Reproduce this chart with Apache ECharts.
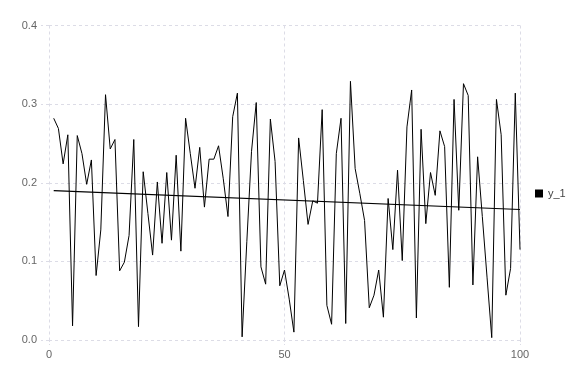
<!DOCTYPE html>
<html><head><meta charset="utf-8">
<script src="https://cdn.jsdelivr.net/npm/echarts@6/dist/echarts.min.js"></script>
<style>html,body{margin:0;padding:0;background:#fff}#c{width:576px;height:384px}</style>
</head><body><div id="c"></div>
<script>
const xValues = [];
for (let i = 1; i <= 100; i++) xValues.push(i);
const y1 = [
 0.282,0.269,0.224,0.261,0.018,0.260,0.237,0.198,0.229,0.082,
 0.140,0.312,0.243,0.255,0.088,0.099,0.133,0.255,0.017,0.214,
 0.161,0.108,0.201,0.123,0.213,0.127,0.235,0.113,0.282,0.237,
 0.193,0.245,0.169,0.230,0.230,0.247,0.205,0.157,0.284,0.314,
 0.004,0.125,0.240,0.302,0.093,0.071,0.281,0.227,0.069,0.089,
 0.052,0.010,0.257,0.203,0.147,0.177,0.174,0.293,0.044,0.020,
 0.237,0.282,0.021,0.329,0.218,0.186,0.152,0.041,0.057,0.089,
 0.029,0.180,0.115,0.216,0.101,0.271,0.318,0.028,0.268,0.148,
 0.213,0.184,0.266,0.246,0.067,0.306,0.165,0.326,0.311,0.070,
 0.233,0.157,0.080,0.003,0.306,0.261,0.057,0.091,0.314,0.115
];
const trendX = [1, 100];
const trendY = [0.190, 0.166];
const xTicks = [0, 50, 100];
const yTicks = [0, 0.1, 0.2, 0.3, 0.4];

const chart = echarts.init(document.getElementById('c'));
const font = 'Liberation Sans, Arial, sans-serif';
const gridColor = '#dcdce6';
chart.setOption({
  animation: false,
  textStyle: {fontFamily: font},
  grid: {left: 49, right: 56, top: 25.5, bottom: 44},
  legend: {
    data: [{name: 'y_1', icon: 'rect'}],
    orient: 'vertical', left: 530, top: 183,
    itemWidth: 8, itemHeight: 8, itemGap: 4,
    textStyle: {fontSize: 11, color: '#444', fontFamily: font}
  },
  xAxis: {
    type: 'value', min: xTicks[0], max: xTicks[xTicks.length-1], interval: 50,
    axisLine: {show: false},
    axisTick: {show: true, length: 5, lineStyle: {color: gridColor, type: [2, 2]}},
    axisLabel: {color: '#666', fontSize: 11, margin: 9},
    splitLine: {show: true, lineStyle: {color: gridColor, type: [3, 3], width: 1}}
  },
  yAxis: {
    type: 'value', min: yTicks[0], max: yTicks[yTicks.length-1], interval: 0.1,
    axisLine: {show: false},
    axisTick: {show: true, length: 8, lineStyle: {color: gridColor, type: [3, 3]}},
    axisLabel: {color: '#666', fontSize: 11, margin: 12, formatter: v => v.toFixed(1)},
    splitLine: {show: true, lineStyle: {color: gridColor, type: [3, 3], width: 1}}
  },
  series: [
    {
      name: 'y_1', type: 'line', showSymbol: false, symbol: 'none',
      data: xValues.map((x, i) => [x, y1[i]]),
      lineStyle: {color: '#000', width: 1}, itemStyle: {color: '#000'}
    },
    {
      name: 'trend', type: 'line', showSymbol: false, symbol: 'none',
      data: trendX.map((x, i) => [x, trendY[i]]),
      lineStyle: {color: '#000', width: 1.2}
    }
  ]
});
</script></body></html>
